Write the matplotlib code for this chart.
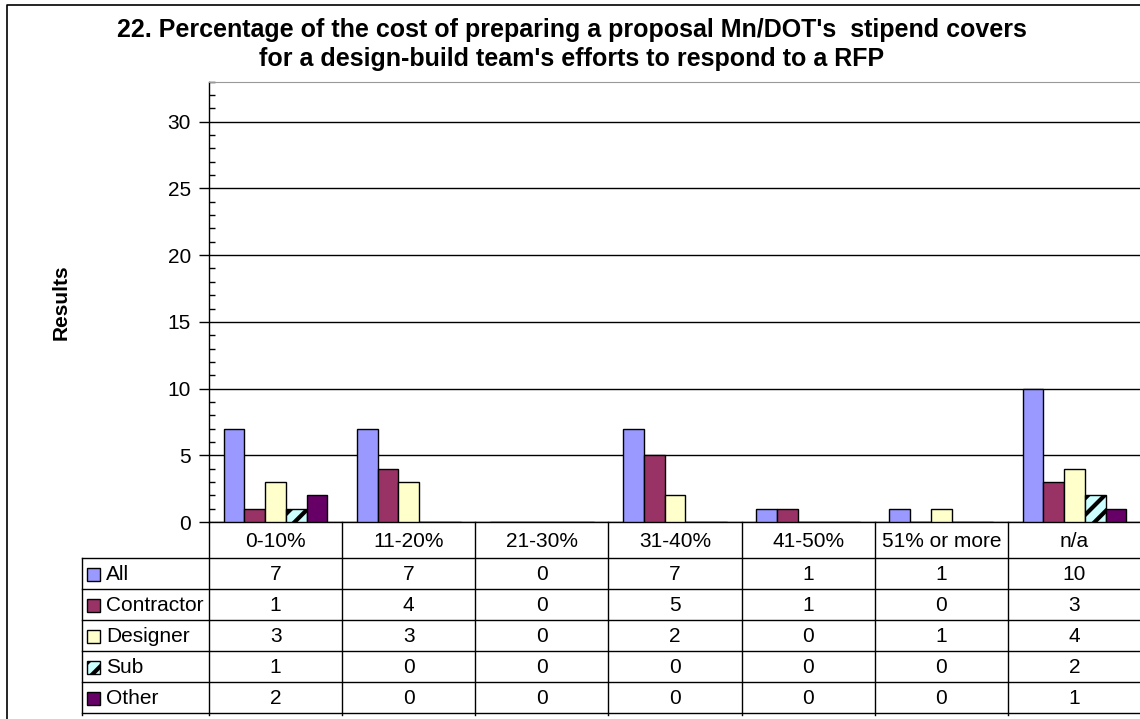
import matplotlib
matplotlib.use("Agg")
import matplotlib.pyplot as plt
from matplotlib.patches import Rectangle
from matplotlib.lines import Line2D
from matplotlib.transforms import blended_transform_factory
import numpy as np

plt.rcParams['font.family'] = ['Liberation Sans', 'DejaVu Sans']
plt.rcParams['hatch.linewidth'] = 3.0

# Survey answers per stipend-coverage bracket
categories = ["0-10%", "11-20%", "21-30%", "31-40%", "41-50%", "51% or more", "n/a"]
series_names = ["All", "Contractor", "Designer", "Sub", "Other"]
all_vals = [7, 7, 0, 7, 1, 1, 10]
contractor_vals = [1, 4, 0, 5, 1, 0, 3]
designer_vals = [3, 3, 0, 2, 0, 1, 4]
sub_vals = [1, 0, 0, 0, 0, 0, 2]
other_vals = [2, 0, 0, 0, 0, 0, 1]
series_values = [all_vals, contractor_vals, designer_vals, sub_vals, other_vals]

colors = ["#9999FF", "#993366", "#FFFFCC", "#CCFFFF", "#660066"]
hatches = [None, None, None, "//", None]

title_lines = ["22. Percentage of the cost of preparing a proposal Mn/DOT's  stipend covers",
               "for a design-build team's efforts to respond to a RFP"]
y_label = "Results"

W, H = 1140, 719
fig = plt.figure(figsize=(W / 100, H / 100), dpi=100)


def fx(x):
    return x / W


def fy(y):
    return 1 - y / H


FS = 15
plot_left, plot_right, plot_top, plot_bottom = 209, 1141, 81.7, 522
ax = fig.add_axes([fx(plot_left), fy(plot_bottom),
                   fx(plot_right - plot_left), (plot_bottom - plot_top) / H])

n_cat = len(categories)
x = np.arange(n_cat)
bar_w = 0.156
for i, (name, vals) in enumerate(zip(series_names, series_values)):
    ax.bar(x + (i - 2) * bar_w, vals, width=bar_w, color=colors[i],
           edgecolor="black", linewidth=1, hatch=hatches[i], zorder=3)

ax.set_xlim(-0.5, n_cat - 0.5)
ax.set_ylim(0, 33)
ax.set_yticks(np.arange(0, 31, 5))
ax.set_yticks(np.arange(0, 34, 1), minor=True)
ax.yaxis.grid(True, which="major", color="black", linewidth=1, zorder=0)
ax.tick_params(axis="y", which="major", direction="out", length=7, width=1,
               labelsize=FS, pad=6)
ax.tick_params(axis="y", which="minor", direction="in", length=4, width=1)
ax.set_xticks(np.arange(n_cat + 1) - 0.5)
ax.set_xticklabels([])
ax.tick_params(axis="x", direction="out", length=0)
ax.spines["right"].set_visible(False)
ax.spines["top"].set_color("#999999")
ax.spines["left"].set_linewidth(1)
ax.spines["bottom"].set_linewidth(1)

ax.text(fx(61), 0.5, y_label, transform=blended_transform_factory(fig.transFigure, ax.transAxes),
        rotation=90, ha="center", va="center", fontsize=15, fontweight="bold")

# Title
fig.text(fx(572), fy(37), title_lines[0], ha="center", va="baseline",
         fontsize=18, fontweight="bold")
fig.text(fx(572), fy(66), title_lines[1], ha="center", va="baseline",
         fontsize=18, fontweight="bold")

# Data table below the axis
bt = blended_transform_factory(ax.transData, fig.transFigure)
header_bottom = 557.7
row_h = 31.1
table_left = 82
table_bottom = header_bottom + row_h * len(series_names)

for j, cat in enumerate(categories):
    ax.text(j, fy((plot_bottom + header_bottom) / 2 + 1.5), cat, transform=bt,
            ha="center", va="center", fontsize=FS, clip_on=False)

for i, (name, vals) in enumerate(zip(series_names, series_values)):
    yc = header_bottom + row_h * (i + 0.5) + 1
    for j, v in enumerate(vals):
        ax.text(j, fy(yc), str(v), transform=bt, ha="center", va="center",
                fontsize=FS, clip_on=False)
    fig.patches.append(Rectangle((fx(87), fy(yc + 6.5)), fx(13), 13 / H,
                                 facecolor=colors[i], edgecolor="black",
                                 linewidth=1, hatch=hatches[i],
                                 transform=fig.transFigure))
    fig.text(fx(106), fy(yc), name, ha="left", va="center", fontsize=FS)

# Horizontal rules of the table
for k in range(len(series_names) + 1):
    yy = header_bottom + row_h * k
    fig.add_artist(Line2D([fx(table_left), 1.0], [fy(yy), fy(yy)],
                          color="black", linewidth=1))
# Vertical rules
fig.add_artist(Line2D([fx(table_left), fx(table_left)],
                      [fy(header_bottom), fy(table_bottom + 2)], color="black", linewidth=1))
for j in range(n_cat + 1):
    xd = j - 0.5
    ax.add_line(Line2D([xd, xd], [fy(plot_bottom), fy(table_bottom + 2)],
                       transform=bt, color="black", linewidth=1, clip_on=False))

# Chart frame
fig.add_artist(Line2D([fx(7), fx(7), 1.0], [0, fy(5), fy(5)], color="black", linewidth=1.2))

fig.savefig("out.png", dpi=100)
